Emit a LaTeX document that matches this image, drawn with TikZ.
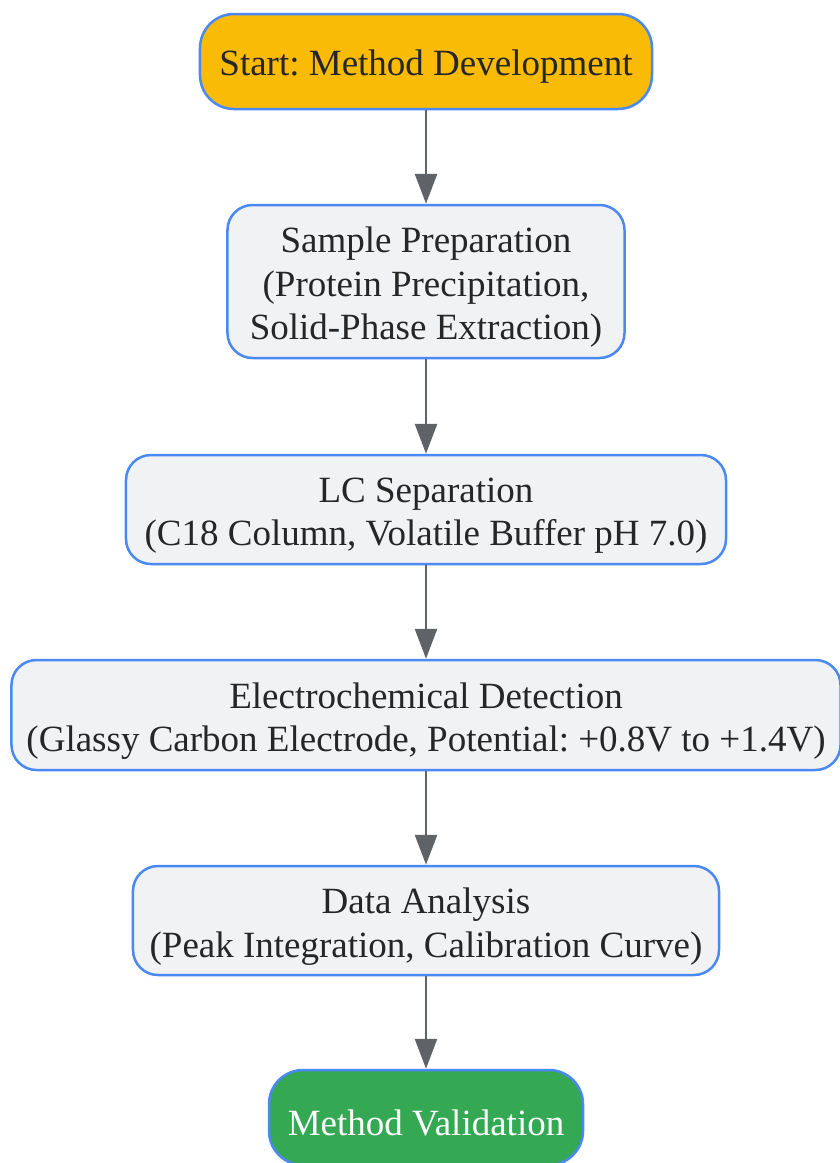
\documentclass[tikz,border=0pt]{standalone}
\usepackage{fontspec}
\setmainfont{Liberation Serif}
\frenchspacing
\usetikzlibrary{arrows.meta}
\definecolor{nodeborder}{HTML}{4A89F3}
\definecolor{startfill}{HTML}{F9BB05}
\definecolor{boxfill}{HTML}{F1F2F4}
\definecolor{endfill}{HTML}{34A853}
\definecolor{arrowgray}{HTML}{5F6368}
\definecolor{txt}{HTML}{262626}
\tikzset{
  base/.style={draw=nodeborder, line width=2.5bp, inner sep=0pt},
  startbox/.style={base, fill=startfill, rounded corners=34bp},
  procbox/.style={base, fill=boxfill, rounded corners=25bp},
  endbox/.style={base, fill=endfill, rounded corners=34bp},
  label text/.style={align=center, inner sep=0pt, text=txt,
    font=\fontsize{37bp}{43.5bp}\selectfont},
  conn/.style={draw=arrowgray, line width=2.8bp, -{Triangle[width=22bp,length=30bp]}}
}
\begin{document}
\begin{tikzpicture}[x=1bp,y=-1bp]
\useasboundingbox (0,0) rectangle (840,1163);
\node[startbox, minimum width=452bp, minimum height=95bp] (start) at (426,61.5) {};
\node[procbox, minimum width=397bp, minimum height=153bp] (prep) at (426,281.5) {};
\node[procbox, minimum width=600bp, minimum height=109bp] (lc) at (426,509.5) {};
\node[procbox, minimum width=829bp, minimum height=110bp] (ecd) at (426,715) {};
\node[procbox, minimum width=586bp, minimum height=109bp] (data) at (426,920.5) {};
\node[endbox, minimum width=314bp, minimum height=95bp] (valid) at (426,1117.5) {};
\node[label text] (start-t) at ([yshift=-5bp]start.center) {Start: Method Development};
\node[label text] (prep-t) at ([yshift=-6bp]prep.center) {Sample Preparation\\(Protein Precipitation,\\Solid-Phase Extraction)};
\node[label text] (lc-t) at ([yshift=-6bp]lc.center) {LC Separation\\(C18 Column, Volatile Buffer pH 7.0)};
\node[label text] (ecd-t) at ([yshift=-6bp]ecd.center) {Electrochemical Detection\\(Glassy Carbon Electrode, Potential: +0.8V to +1.4V)};
\node[label text] (data-t) at ([yshift=-6bp]data.center) {Data Analysis\\(Peak Integration, Calibration Curve)};
\node[label text, text=white] (valid-t) at ([yshift=-5bp]valid.center) {Method Validation};
\draw[conn] (start.south) -- (prep.north);
\draw[conn] (prep.south) -- (lc.north);
\draw[conn] (lc.south) -- (ecd.north);
\draw[conn] (ecd.south) -- (data.north);
\draw[conn] (data.south) -- (valid.north);
\end{tikzpicture}
\end{document}
